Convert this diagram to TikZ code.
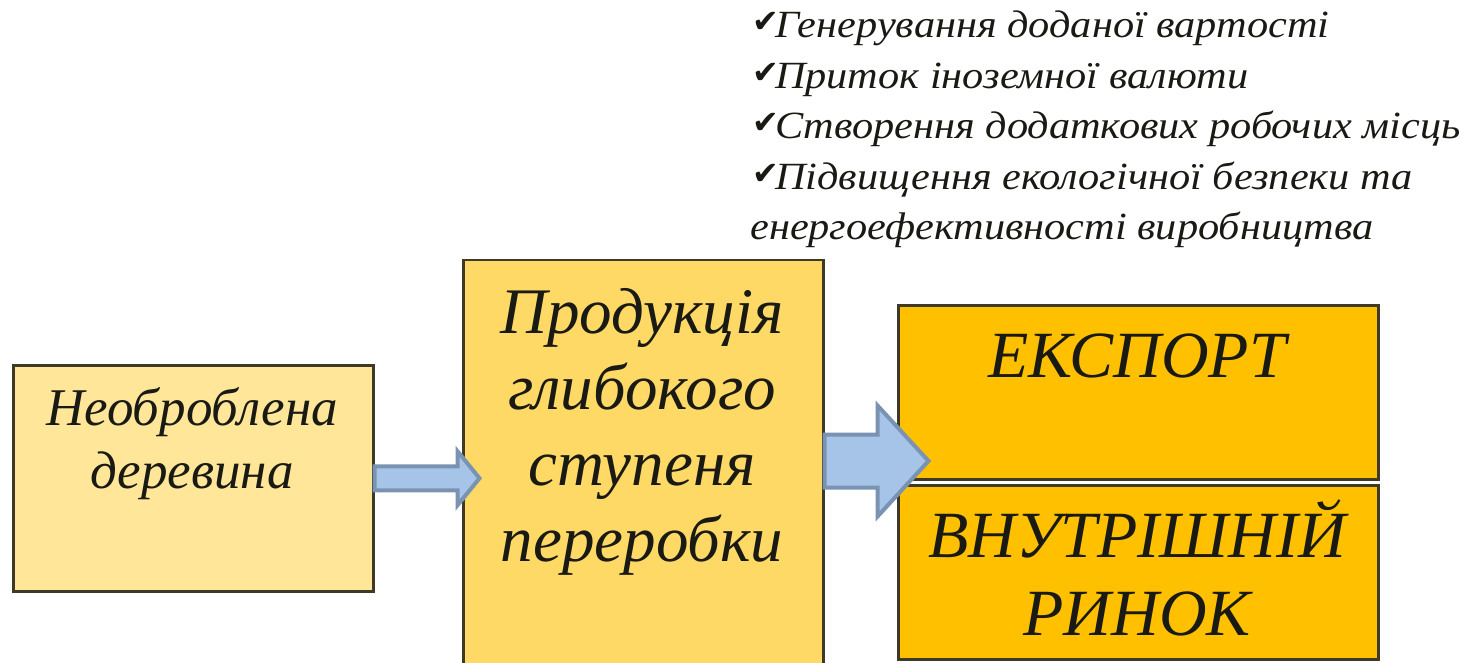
\documentclass[tikz,border=0pt]{standalone}
\usepackage{fontspec}
\setmainfont{Liberation Serif}
\newfontfamily\widefont[FakeStretch=1.1]{Liberation Serif}
\newfontfamily\symfont{DejaVu Sans}
\usetikzlibrary{calc}
\definecolor{boxA}{HTML}{FFE699}
\definecolor{boxB}{HTML}{FFD966}
\definecolor{boxC}{HTML}{FFC000}
\definecolor{edgecol}{HTML}{3F3A26}
\definecolor{arrfill}{HTML}{A6C4E8}
\definecolor{arrline}{HTML}{7A93B3}
\definecolor{txt}{HTML}{1A1A14}
\newcommand{\chk}{\hspace{2pt}\raisebox{5pt}{\symfont\fontsize{32}{32}\selectfont ✔}\hspace{-4pt}}
\begin{document}
\begin{tikzpicture}[x=1pt,y=-1pt,
  box/.style={draw=edgecol, line width=2.5pt, rectangle, inner sep=0pt, anchor=north west},
  lbl/.style={text=txt, inner sep=0pt, align=center, anchor=base},
  fatarrow/.style={fill=arrfill, draw=arrline, line width=4pt, line join=miter}]
\useasboundingbox (0,0) rectangle (1468,663);
\fill[white] (0,0) rectangle (1468,663);
% boxes
\node[box, fill=boxA, minimum width=360pt, minimum height=226pt] (raw) at (12,364) {};
\node[box, fill=boxB, minimum width=360pt, minimum height=440pt] (deep) at (462,259) {};
\node[box, fill=boxC, minimum width=480pt, minimum height=174pt] (exp) at (897,304) {};
\node[box, fill=boxC, minimum width=480pt, minimum height=174pt] (dom) at (897,484) {};
% arrows
\coordinate (a1) at (raw.east);
\coordinate (a2) at ($(deep.north east)+(0,202)$);
\draw[fatarrow] ($(a1)+(0,-12)$) -- ($(a1)+(83,-12)$) -- ($(a1)+(83,-27)$) -- ($(a1)+(105,0)$)
   -- ($(a1)+(83,27)$) -- ($(a1)+(83,12)$) -- ($(a1)+(0,12)$) -- cycle;
\draw[fatarrow] ($(a2)+(0,-26.5)$) -- ($(a2)+(53,-26.5)$) -- ($(a2)+(53,-55.5)$) -- ($(a2)+(104,0)$)
   -- ($(a2)+(53,55.5)$) -- ($(a2)+(53,26.5)$) -- ($(a2)+(0,26.5)$) -- cycle;
% texts (base anchor = baseline of the last line)
\node[lbl, font=\fontsize{53}{63}\selectfont\itshape] (rawtxt) at (192,488) {Необроблена\\деревина};
\node[lbl, font=\fontsize{65}{76}\selectfont\itshape] (deeptxt) at (642,561) {Продукція\\глибокого\\ступеня\\переробки};
\node[lbl, font=\fontsize{66}{78}\selectfont\itshape] (exptxt) at (1137,377) {ЕКСПОРТ};
\node[lbl, font=\fontsize{66}{78}\selectfont\itshape] (domtxt) at (1137,635) {ВНУТРІШНІЙ\\РИНОК};
\node[text=txt, inner sep=0pt, align=left, anchor=base west, font=\widefont\fontsize{38.5}{50.5}\selectfont\itshape] (benefits) at (750,240)
  {\chk Генерування доданої вартості\\
   \chk Приток іноземної валюти\\
   \chk Створення додаткових робочих місць\\
   \chk Підвищення екологічної безпеки та\\
   енергоефективності виробництва};
\end{tikzpicture}
\end{document}
